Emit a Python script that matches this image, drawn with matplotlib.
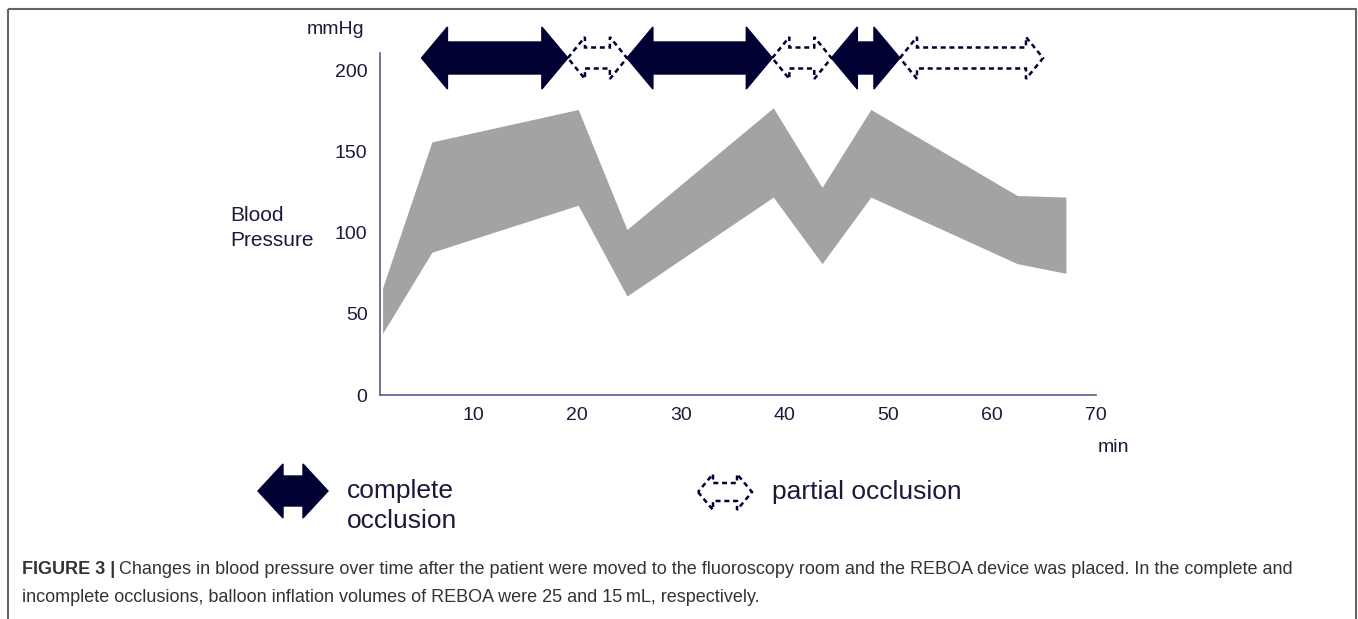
import matplotlib
matplotlib.use("Agg")
import matplotlib.pyplot as plt
from matplotlib.patches import Polygon, Rectangle

plt.rcParams['font.family'] = ['Liberation Sans', 'DejaVu Sans']

# blood pressure band (min, mmHg)
TIME = [1.25, 6.0, 20.1, 24.8, 38.9, 43.6, 48.3, 62.4, 67.1]
UPPER = [66, 156, 176, 102, 177, 128, 176, 123, 122]
LOWER = [38, 88, 117, 61, 122, 81, 122, 81, 75]

X_TICKS = [10, 20, 30, 40, 50, 60, 70]
Y_TICKS = [0, 50, 100, 150, 200]

# occlusion periods (start, end, kind)
PERIODS = [(5.0, 19.1, "complete"), (19.1, 24.8, "partial"),
           (24.8, 38.8, "complete"), (38.8, 44.5, "partial"),
           (44.5, 51.1, "complete"), (51.1, 64.9, "partial")]

NAVY = "#000033"
TXT = "#1a1a3a"
AX_H = 342.3  # axes height in px


def arrow_pts(x0, x1, yc, shaft, head, hlen):
    return [(x0, yc), (x0 + hlen, yc + head), (x0 + hlen, yc + shaft),
            (x1 - hlen, yc + shaft), (x1 - hlen, yc + head), (x1, yc),
            (x1 - hlen, yc - head), (x1 - hlen, yc - shaft),
            (x0 + hlen, yc - shaft), (x0 + hlen, yc - head)]


def arrow_patch(pts, kind, **kw):
    if kind == "complete":
        return Polygon(pts, closed=True, fc=NAVY, ec=NAVY, lw=1, **kw)
    return Polygon(pts, closed=True, fc="white", ec=NAVY, lw=1.8,
                   ls=(0, (2.0, 1.5)), **kw)


def main():
    fig = plt.figure(figsize=(13.58, 6.19), dpi=100)
    ax = fig.add_axes([380 / 1358, 224 / 619, 716 / 1358, AX_H / 619])

    ax.fill_between(TIME, LOWER, UPPER, color="#a3a3a3", lw=0)
    ax.set_xlim(1, 70)
    ax.set_ylim(0, 211)
    ax.set_xticks(X_TICKS)
    ax.set_yticks(Y_TICKS)
    ax.tick_params(length=0, labelsize=14, labelcolor=TXT)
    ax.tick_params(axis="y", pad=9)
    ax.tick_params(axis="x", pad=9)
    for s in ["top", "right"]:
        ax.spines[s].set_visible(False)
    for s in ["left", "bottom"]:
        ax.spines[s].set_color("#5a5a8a")
        ax.spines[s].set_linewidth(1.2)
    ax.patch.set_alpha(0)

    # arrows for occlusion periods above the plot
    tr = ax.get_xaxis_transform()
    yc = (395 - 58) / AX_H
    for a, b, kind in PERIODS:
        if kind == "complete":
            pts = arrow_pts(a, b, yc, 16 / AX_H, 31 / AX_H, 2.5)
        else:
            pts = arrow_pts(a, b, yc, 10.5 / AX_H, 21 / AX_H, 1.65)
        ax.add_patch(arrow_patch(pts, kind, transform=tr, clip_on=False))

    # overlay in pixel coords for labels, legend, caption
    ov = fig.add_axes([0, 0, 1, 1])
    ov.set_xlim(0, 1358)
    ov.set_ylim(619, 0)
    ov.axis("off")
    ov.patch.set_alpha(0)

    ov.add_patch(Rectangle((7.5, 8.5), 1348, 700, fill=False, ec="#666666", lw=1.5))

    ov.text(335, 30, "mmHg", fontsize=14, color=TXT, ha="center", va="center")
    ov.text(230, 228, "Blood\nPressure", fontsize=15, color=TXT, ha="left",
            va="center", linespacing=1.35)
    ov.text(1113, 447, "min", fontsize=14, color=TXT, ha="center", va="center")

    ov.add_patch(arrow_patch(arrow_pts(258, 328, 491, 15, 27, 25), "complete"))
    ov.text(347, 506, "complete\nocclusion", fontsize=19, color=TXT,
            ha="left", va="center", linespacing=1.32)
    ov.add_patch(arrow_patch(arrow_pts(698, 752, 492, 9, 18, 15), "partial"))
    ov.text(772, 492, "partial occlusion", fontsize=19, color=TXT,
            ha="left", va="center")

    t1 = ov.text(22, 570, "FIGURE 3 |", fontsize=13, fontweight="bold",
                 color="#333333", ha="left", va="center")
    fig.canvas.draw()
    bb = t1.get_window_extent()
    x_after = bb.x1 + 4
    ov.text(x_after, 570, "Changes in blood pressure over time after the patient were "
            "moved to the fluoroscopy room and the REBOA device was placed. In the "
            "complete and", fontsize=13, color="#333333", ha="left", va="center")
    ov.text(22, 597, "incomplete occlusions, balloon inflation volumes of REBOA were "
            "25 and 15\u2009mL, respectively.", fontsize=13, color="#333333",
            ha="left", va="center")

    fig.savefig("out.png", dpi=100)


if __name__ == "__main__":
    main()
